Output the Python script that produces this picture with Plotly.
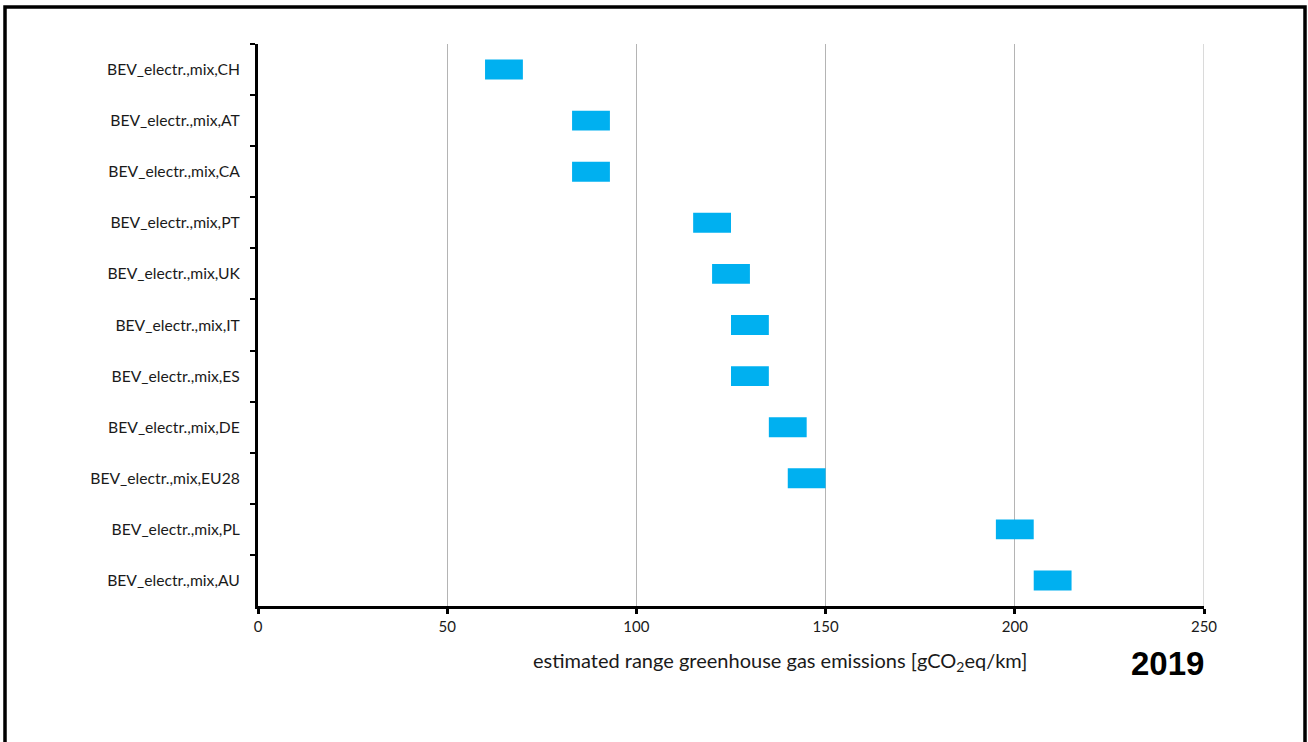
import plotly.graph_objects as go

categories = ["BEV_electr.,mix,CH", "BEV_electr.,mix,AT", "BEV_electr.,mix,CA",
              "BEV_electr.,mix,PT", "BEV_electr.,mix,UK", "BEV_electr.,mix,IT",
              "BEV_electr.,mix,ES", "BEV_electr.,mix,DE", "BEV_electr.,mix,EU28",
              "BEV_electr.,mix,PL", "BEV_electr.,mix,AU"]
range_low = [60, 83, 83, 115, 120, 125, 125, 135, 140, 195, 205]
range_high = [70, 93, 93, 125, 130, 135, 135, 145, 150, 205, 215]
x_ticks = [0, 50, 100, 150, 200, 250]

W, H = 1308, 742
L, R, T, B = 258, 104, 44, 136
pw, ph = W - L - R, H - T - B

def px(x):
    return (x - L) / pw

def py(y):
    return (H - B - y) / ph

fig = go.Figure()
fig.add_trace(go.Bar(
    y=categories,
    x=[h - l for l, h in zip(range_low, range_high)],
    base=range_low,
    orientation="h",
    width=0.39,
    marker=dict(color="#00B0F0", line=dict(width=0)),
    showlegend=False,
))

font_main = "Lato, 'Open Sans', sans-serif"

fig.update_layout(
    width=W, height=H,
    margin=dict(l=L, r=R, t=T, b=B),
    paper_bgcolor="white",
    plot_bgcolor="white",
    bargap=0.6,
    font=dict(family=font_main, size=15.7, color="#1a1a1a"),
    xaxis=dict(
        range=[x_ticks[0], x_ticks[-1]], tickvals=x_ticks, ticktext=[str(v) for v in x_ticks],
        showgrid=True, gridcolor="#b4b4b4", gridwidth=1,
        showline=True, linecolor="black", linewidth=3,
        ticks="outside", ticklen=5, tickwidth=3, tickcolor="black",
        zeroline=False, tickfont=dict(size=15),
    ),
    yaxis=dict(
        categoryorder="array", categoryarray=categories, autorange="reversed",
        showgrid=False, showline=True, linecolor="black", linewidth=3,
        ticks="outside", tickson="boundaries", ticklen=5, tickwidth=2,
        tickcolor="black", ticklabelstandoff=12, tickfont=dict(size=15.7),
    ),
    shapes=[
        dict(type="line", xref="x", yref="paper", x0=x_ticks[-1], x1=x_ticks[-1],
             y0=0, y1=1, line=dict(color="#b4b4b4", width=1), layer="below"),
        dict(type="rect", xref="paper", yref="paper",
             x0=px(5), x1=px(1305), y0=py(760), y1=py(7),
             line=dict(color="black", width=3.5), fillcolor="rgba(0,0,0,0)",
             layer="above"),
    ],
    annotations=[
        dict(xref="paper", yref="paper", x=px(780), y=py(661),
             text="estimated range greenhouse gas emissions [gCO<sub>2</sub>eq/km]",
             showarrow=False, xanchor="center", yanchor="middle",
             font=dict(size=20, family=font_main)),
        dict(xref="paper", yref="paper", x=px(1206), y=py(663),
             text="<b>2019</b>", showarrow=False, xanchor="right", yanchor="middle",
             font=dict(size=33, family="'Liberation Sans', Arial, sans-serif", color="black")),
    ],
)

fig.write_html("out.html", config={"displayModeBar": False},
               post_script="document.body.style.margin='0';document.body.style.overflow='hidden';")
